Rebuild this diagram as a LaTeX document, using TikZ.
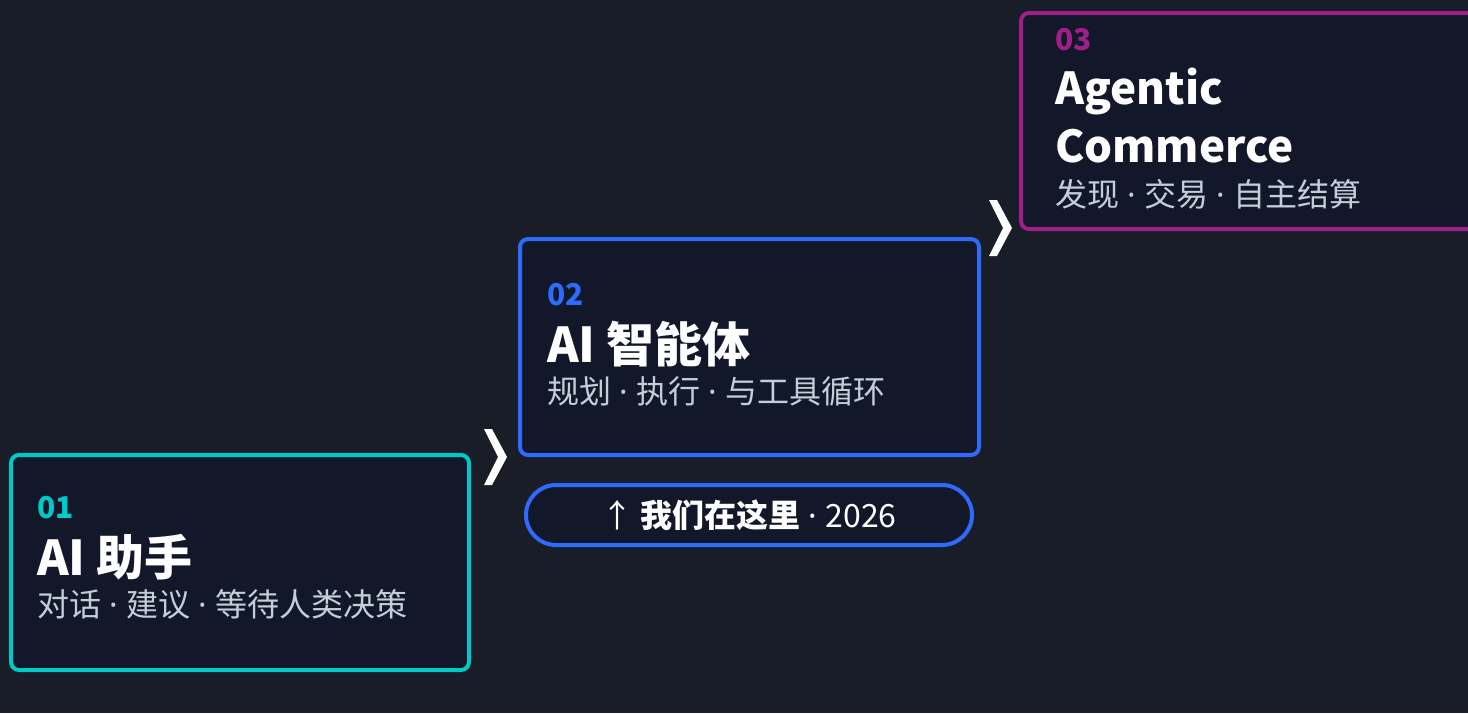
\documentclass[tikz,border=0pt]{standalone}
\usepackage{fontspec}
\setmainfont{Noto Sans CJK SC}
\newfontfamily\dotfont{Noto Sans}
\newcommand\sepdot{{\dotfont\ ·\ }}
\usetikzlibrary{positioning}

\definecolor{bgdark}{HTML}{181D27}
\definecolor{boxfill}{HTML}{121829}
\definecolor{stepcyan}{HTML}{00C9C9}
\definecolor{stepblue}{HTML}{2E6BFA}
\definecolor{steppurple}{HTML}{9E1F88}
\definecolor{subgray}{HTML}{C5CDD9}

\tikzset{
  stage/.style={draw=#1, line width=4pt, fill=boxfill, rounded corners=8pt, inner sep=0pt},
  stagenum/.style={anchor=base west, inner sep=0pt, text=#1, font=\fontsize{30}{34}\selectfont\bfseries},
  headline/.style={anchor=base west, inner sep=0pt, text=white, align=left, font=\fontsize{48}{58}\selectfont\bfseries},
  subline/.style={anchor=base west, inner sep=0pt, text=subgray, font=\fontsize{32}{36}\selectfont},
}

\begin{document}
\begin{tikzpicture}[line cap=round,line join=round,x=1pt,y=-1pt]
      \useasboundingbox (0,0) rectangle (1468,713);
      \clip (0,0) rectangle (1468,713);
      \fill[bgdark] (0,0) rectangle (1468,713);

      % the three stages
      \node[stage=stepcyan, minimum width=458pt, minimum height=215pt] (box1) at (240,562.5) {};
      \node[stage=stepblue, minimum width=459pt, minimum height=216pt] (box2) at (749.5,347) {};
      \node[stage=steppurple, minimum width=469pt, minimum height=216pt] (box3) at (1255.5,121) {};

      \node[stagenum=stepcyan] (num1) at (37,518) {01};
      \node[headline] (title1) at (37,575) {AI 助手};
      \node[subline] (sub1) at (37,616) {对话\sepdot 建议\sepdot 等待人类决策};

      \node[stagenum=stepblue] (num2) at (547,305) {02};
      \node[headline] (title2) at (547,362) {AI 智能体};
      \node[subline] (sub2) at (547,403) {规划\sepdot 执行\sepdot 与工具循环};

      \node[stagenum=steppurple] (num3) at (1055,50) {03};
      % base of a two-line node is its last line
      \node[headline, font=\fontsize{44}{58}\selectfont\bfseries] (title3) at (1055,162) {Agentic\\Commerce};
      \node[subline] (sub3) at (1055,206) {发现\sepdot 交易\sepdot 自主结算};

      % where we are
      \node[draw=stepblue, line width=4pt, fill=boxfill, rounded corners=30pt,
            minimum width=446pt, minimum height=60pt, inner sep=0pt,
            text=white, font=\fontsize{32}{36}\selectfont] (here) at (749,515)
            {↑ \textbf{我们在这里}\sepdot 2026};

      % chevrons between stages
      \coordinate (c12) at (495,457);
      \coordinate (c23) at (1000,228);
      \foreach \c in {c12,c23}{
        \fill[white,shift={(\c)}] (-11,-28) -- (-3,-28) -- (12,0) -- (-3,28) -- (-11,28) -- (3,0) -- cycle;
      }
    \end{tikzpicture}
\end{document}
